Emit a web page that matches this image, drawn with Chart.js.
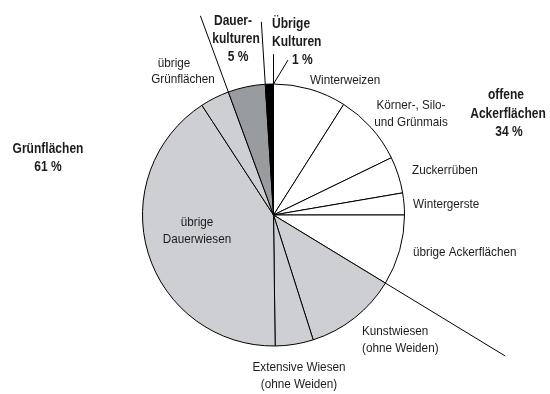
<!DOCTYPE html>
<html>
<head>
<meta charset="utf-8">
<script src="https://cdn.jsdelivr.net/npm/chart.js@4.4.1/dist/chart.umd.min.js"></script>
<style>
  html, body { margin: 0; padding: 0; background: #fff; }
  #wrap { width: 550px; height: 394px; }
</style>
</head>
<body>
<div id="wrap"><canvas id="c" width="550" height="394"></canvas></div>
<script>
// Land use shares in percent, clockwise from 12 o'clock
const categories = [
  'Winterweizen',
  'Körner-, Silo- und Grünmais',
  'Zuckerrüben',
  'Wintergerste',
  'übrige Ackerflächen',
  'Kunstwiesen (ohne Weiden)',
  'Extensive Wiesen (ohne Weiden)',
  'übrige Dauerwiesen',
  'übrige Grünflächen',
  'Dauerkulturen',
  'Übrige Kulturen'
];
const shares = [9.0, 8.8, 4.5, 2.7, 8.7, 11.4, 4.7, 41.0, 3.6, 4.6, 1.0];

// Main groups and their rounded totals
const groupNames = ['offene Ackerflächen', 'Grünflächen', 'Dauerkulturen', 'Übrige Kulturen'];
const groupShares = [34, 61, 5, 1];
// Which slice index closes each group (group boundary lines are drawn there)
const groupLastSlice = [4, 8, 9, 10];

const WHITE = '#ffffff', LIGHT = '#cecfd3', DARK = '#999c9e', BLACK = '#000000';
const sliceColors = [WHITE, WHITE, WHITE, WHITE, WHITE, LIGHT, LIGHT, LIGHT, LIGHT, DARK, BLACK];

const FONT = '"Liberation Sans", Arial, sans-serif';
const TEXT = '#1c1c1c';
// condensed look: regular and bold captions are squeezed horizontally
const REG = { font: '13px ' + FONT, squeeze: 0.9 };
const BOLD = { font: 'bold 14.5px ' + FONT, squeeze: 0.83 };

// Slice captions: lines, anchor x, first-line y, alignment
const sliceLabelLayout = [
  { lines: [categories[0]], x: 310, y: 80, align: 'left' },
  { lines: ['Körner-, Silo-', 'und Grünmais'], x: 411, y: 105, align: 'center' },
  { lines: [categories[2]], x: 412, y: 170, align: 'left' },
  { lines: [categories[3]], x: 413, y: 204, align: 'left' },
  { lines: [categories[4]], x: 413, y: 252, align: 'left' },
  { lines: ['Kunstwiesen', '(ohne Weiden)'], x: 362, y: 331, align: 'left' },
  { lines: ['Extensive Wiesen', '(ohne Weiden)'], x: 299, y: 367, align: 'center' },
  { lines: ['übrige', 'Dauerwiesen'], x: 197, y: 222, align: 'center' },
  { lines: ['übrige'], x: 174, y: 63, align: 'center' },
  { lines: ['Grünflächen'], x: 183, y: 79, align: 'center' }
];

// Bold group captions
const groupLabelLayout = [
  { lines: ['offene', 'Ackerflächen', groupShares[0] + ' %'], xs: [506, 508, 509], y: 95, step: 18.5, align: 'center' },
  { lines: [groupNames[1], groupShares[1] + ' %'], xs: [48, 48], y: 149, step: 18, align: 'center' },
  { lines: ['Dauer-', 'kulturen', groupShares[2] + ' %'], xs: [233, 236, 238], y: 21, step: 18, align: 'center' },
  { lines: ['Übrige', 'Kulturen', groupShares[3] + ' %'], xs: [272, 272, 292], y: 24, step: 18, align: 'left' }
];

// Length of each group boundary line, as a multiple of the pie radius
const boundaryReach = { start: 1.227, 4: 2.07, 8: 1.62, 9: 1.478 };

function caption(ctx, text, x, y, align, style) {
  ctx.save();
  ctx.font = style.font;
  ctx.textAlign = align;
  ctx.translate(x, y);
  ctx.scale(style.squeeze, 1);
  ctx.fillText(text, 0, 0);
  ctx.restore();
}

const annotations = {
  id: 'annotations',
  afterDatasetsDraw(chart) {
    const ctx = chart.ctx;
    const arcs = chart.getDatasetMeta(0).data;
    const cx = arcs[0].x, cy = arcs[0].y, r = arcs[0].outerRadius;

    ctx.save();
    ctx.strokeStyle = '#000';
    ctx.lineWidth = 1;
    const ray = (angle, reach) => {
      ctx.beginPath();
      ctx.moveTo(cx + Math.cos(angle) * r, cy + Math.sin(angle) * r);
      ctx.lineTo(cx + Math.cos(angle) * r * reach, cy + Math.sin(angle) * r * reach);
      ctx.stroke();
    };
    ray(arcs[0].startAngle, boundaryReach.start);
    groupLastSlice.forEach(i => {
      if (boundaryReach[i]) ray(arcs[i].endAngle, boundaryReach[i]);
    });

    // leader from the "1 %" caption to the smallest slice
    const last = arcs[arcs.length - 1];
    ctx.beginPath();
    ctx.moveTo(288, 60);
    ctx.lineTo(cx + Math.cos(last.endAngle) * r, cy + Math.sin(last.endAngle) * r);
    ctx.stroke();

    ctx.fillStyle = TEXT;
    ctx.textBaseline = 'middle';
    sliceLabelLayout.forEach(l => {
      l.lines.forEach((t, k) => caption(ctx, t, l.x, l.y + k * 17, l.align, REG));
    });
    groupLabelLayout.forEach(g => {
      g.lines.forEach((t, k) => caption(ctx, t, g.xs[k], g.y + k * g.step, g.align, BOLD));
    });
    ctx.restore();
  }
};

new Chart(document.getElementById('c'), {
  type: 'pie',
  data: {
    labels: categories,
    datasets: [{
      data: shares,
      backgroundColor: sliceColors,
      borderColor: '#000',
      borderWidth: 1,
      radius: 131
    }]
  },
  options: {
    responsive: false,
    devicePixelRatio: 1,
    animation: false,
    layout: { padding: { left: 142, right: 145, top: 84, bottom: 48 } },
    plugins: {
      legend: { display: false },
      tooltip: { enabled: false }
    }
  },
  plugins: [annotations]
});
</script>
</body>
</html>
